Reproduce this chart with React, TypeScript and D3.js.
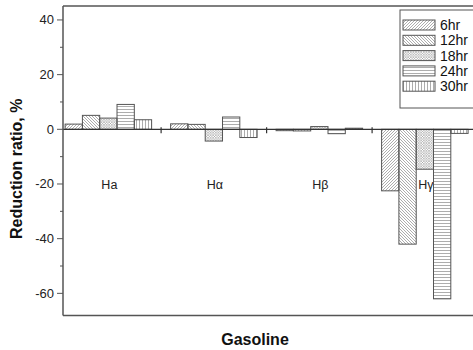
import React from "react";
import * as d3 from "d3";

// Reduction ratio (%) per spectral band, for each aging time
const categories = ["Ha", "Hα", "Hβ", "Hγ"];
const seriesNames = ["6hr", "12hr", "18hr", "24hr", "30hr"];
const hr6 = [1.9, 2.0, -0.5, -22.5];
const hr12 = [5.1, 1.8, -0.6, -42.0];
const hr18 = [4.1, -4.3, 1.0, -14.6];
const hr24 = [9.1, 4.5, -1.6, -62.0];
const hr30 = [3.5, -3.0, 0.4, -1.5];
const seriesValues = [hr6, hr12, hr18, hr24, hr30];
const yTicks = [-60, -40, -20, 0, 20, 40];
const yMinorTicks = [-50, -30, -10, 10, 30];

const W = 473;
const H = 350;
const FONT = "Liberation Sans, Arial, sans-serif";
const AXIS = "#555";
const HATCH = "#8a8a8a";
const patternIds = ["p-diag", "p-back", "p-cross", "p-horiz", "p-vert"];

export default function App() {
  const left = 63;
  const top = 6;
  const bottom = 315.5;
  const x = d3.scaleLinear().domain([0.57, 4.5]).range([left, 477.6]);
  const y = d3.scaleLinear().domain([-68.1, 45.1]).range([bottom, top]);
  const barW = 17.3;
  const groupOffset = -(barW * seriesNames.length) / 2;
  const y0 = y(0);

  return (
    <svg width={W} height={H} style={{ display: "block", position: "absolute", left: 0, top: 0 }} fontFamily={FONT}>
      <defs>
        <pattern id="p-diag" patternUnits="userSpaceOnUse" width={3} height={3}>
          <path d="M-1,1 l2,-2 M0,3 l3,-3 M2,4 l2,-2" stroke={HATCH} strokeWidth={0.7} />
        </pattern>
        <pattern id="p-back" patternUnits="userSpaceOnUse" width={3} height={3}>
          <path d="M-1,2 l2,2 M0,0 l3,3 M2,-1 l2,2" stroke={HATCH} strokeWidth={0.7} />
        </pattern>
        <pattern id="p-cross" patternUnits="userSpaceOnUse" width={2.6} height={2.6}>
          <path d="M-1,1 l2,-2 M0,2.6 l2.6,-2.6 M1.6,3.6 l2,-2 M-1,1.6 l2,2 M0,0 l2.6,2.6 M1.6,-1 l2,2" stroke="#999" strokeWidth={0.55} />
        </pattern>
        <pattern id="p-horiz" patternUnits="userSpaceOnUse" width={4} height={3}>
          <line x1={0} x2={4} y1={1.5} y2={1.5} stroke={HATCH} strokeWidth={0.7} />
        </pattern>
        <pattern id="p-vert" patternUnits="userSpaceOnUse" width={3} height={4}>
          <line x1={1.5} x2={1.5} y1={0} y2={4} stroke={HATCH} strokeWidth={0.7} />
        </pattern>
        <clipPath id="plot-clip">
          <rect x={left} y={top} width={W - left} height={bottom - top} />
        </clipPath>
      </defs>

      <rect x={0} y={0} width={W} height={H} fill="#fff" />

      {/* category labels sit below the bars */}
      {categories.map((c, i) => (
        <text key={c} x={x(i + 1) + 1} y={188.5} fontSize={12.5} textAnchor="middle" fill="#222">
          {c}
        </text>
      ))}

      {/* bars */}
      <g clipPath="url(#plot-clip)">
        {seriesValues.map((vals, s) =>
          vals.map((v, i) => {
            const bx = x(i + 1) + groupOffset + s * barW;
            const by = Math.min(y(v), y0);
            const bh = Math.abs(y(v) - y0);
            return (
              <rect
                key={`${s}-${i}`}
                x={bx}
                y={by}
                width={barW}
                height={bh}
                fill={`url(#${patternIds[s]})`}
                stroke="#555"
                strokeWidth={1}
              />
            );
          })
        )}
      </g>

      {/* zero line with group separators */}
      <line x1={left} x2={W} y1={y0} y2={y0} stroke="#333" strokeWidth={1.2} />
      {[1.5, 2.5, 3.5].map((t) => (
        <line key={t} x1={x(t)} x2={x(t)} y1={y0 - 2} y2={y0 + 4} stroke="#333" strokeWidth={1.2} />
      ))}

      {/* frame */}
      <line x1={left} x2={W} y1={top} y2={top} stroke={AXIS} strokeWidth={1.5} />
      <line x1={left} x2={W} y1={bottom} y2={bottom} stroke={AXIS} strokeWidth={1.5} />
      <line x1={left} x2={left} y1={top} y2={bottom} stroke={AXIS} strokeWidth={1.5} />

      {/* y axis ticks */}
      {yTicks.map((t) => (
        <g key={t}>
          <line x1={left - 6} x2={left} y1={y(t)} y2={y(t)} stroke={AXIS} strokeWidth={1} />
          <text x={left - 9} y={y(t) + 4.5} fontSize={13} textAnchor="end" fill="#222">
            {t}
          </text>
        </g>
      ))}
      {yMinorTicks.map((t) => (
        <line key={t} x1={left - 3} x2={left} y1={y(t)} y2={y(t)} stroke={AXIS} strokeWidth={1} />
      ))}

      {/* axis titles */}
      <text
        transform={`translate(22,${(top + bottom) / 2 + 8}) rotate(-90)`}
        textAnchor="middle"
        fontSize={16}
        fontWeight="bold"
        fill="#111"
      >
        Reduction ratio, %
      </text>
      <text x={255} y={345} textAnchor="middle" fontSize={16} fontWeight="bold" fill="#111">
        Gasoline
      </text>

      {/* legend */}
      <rect x={400} y={10} width={80} height={98} fill="#fff" stroke={AXIS} strokeWidth={1} />
      {seriesNames.map((n, s) => {
        const cy = 25 + s * 15.3;
        return (
          <g key={n}>
            <rect x={403} y={cy - 5} width={32} height={10} fill={`url(#${patternIds[s]})`} stroke="#555" strokeWidth={1} />
            <text x={440} y={cy + 5} fontSize={14} fill="#111">
              {n}
            </text>
          </g>
        );
      })}
    </svg>
  );
}
